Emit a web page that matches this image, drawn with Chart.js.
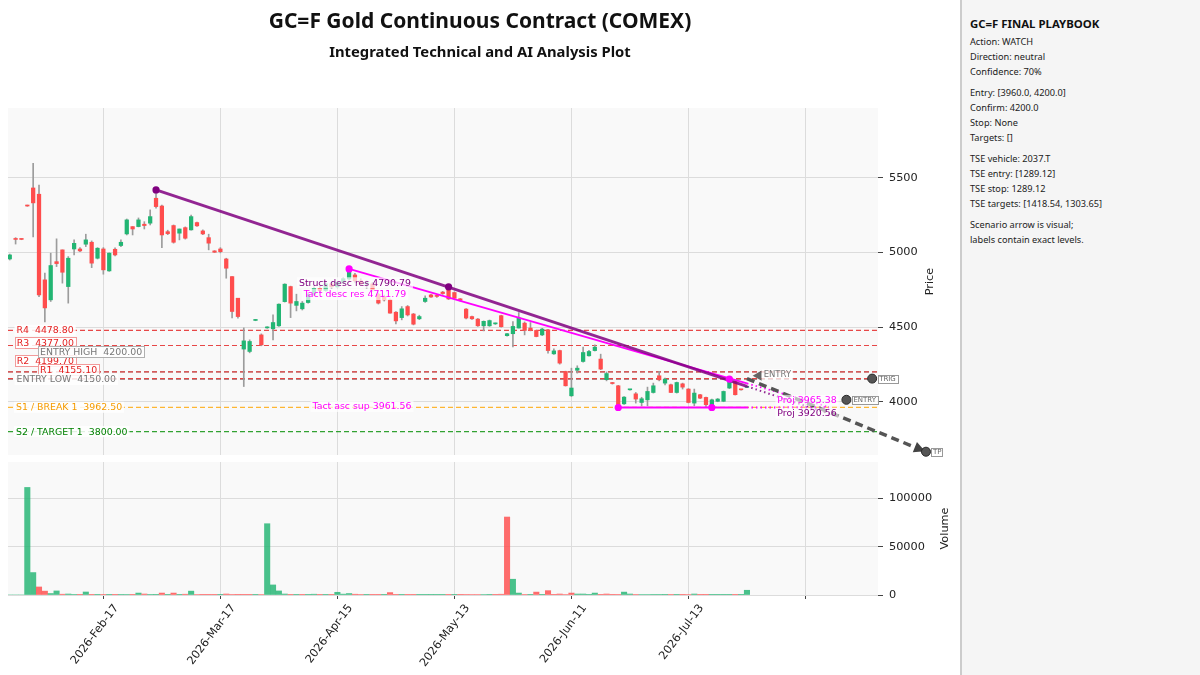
<!DOCTYPE html>
<html>
<head>
<meta charset="utf-8">
<script src="https://cdn.jsdelivr.net/npm/chart.js@4.4.1/dist/chart.umd.min.js"></script>
<style>
  html, body { margin: 0; padding: 0; background: #fff; }
  #wrap { position: relative; width: 1200px; height: 675px; overflow: hidden; }
  #chartBox { position: absolute; left: 0; top: 0; width: 960px; height: 675px; }
  .ttl { position: absolute; left: 0; width: 960px; text-align: center; font-family: "Noto Sans", sans-serif; font-weight: bold; color: #111; }
  #title { top: 6px; font-size: 21px; }
  #subtitle { top: 41px; font-size: 14.8px; }
  #side { position: absolute; left: 960px; top: 0; width: 240px; height: 675px; background: #f5f5f5;
          border-left: 2px solid #cccccc; box-sizing: border-box; padding: 15px 0 0 8px;
          font-family: "Noto Sans", sans-serif; color: #222; font-size: 9.2px; line-height: 15px; }
  #side .head { font-weight: bold; font-size: 11.4px; line-height: 18px; margin-bottom: 1px; color: #111; }
  #side .grp { margin-bottom: 6px; }
</style>
</head>
<body>
<div id="wrap">
  <div id="chartBox"><canvas id="gcChart" width="960" height="675"></canvas></div>
  <div id="title" class="ttl">GC=F Gold Continuous Contract (COMEX)</div>
  <div id="subtitle" class="ttl">Integrated Technical and AI Analysis Plot</div>
  <div id="side">
    <div class="head">GC=F FINAL PLAYBOOK</div>
    <div class="grp">Action: WATCH<br>Direction: neutral<br>Confidence: 70%</div>
    <div class="grp">Entry: [3960.0, 4200.0]<br>Confirm: 4200.0<br>Stop: None<br>Targets: []</div>
    <div class="grp">TSE vehicle: 2037.T<br>TSE entry: [1289.12]<br>TSE stop: 1289.12<br>TSE targets: [1418.54, 1303.65]</div>
    <div class="grp">Scenario arrow is visual;<br>labels contain exact levels.</div>
  </div>
</div>
<script>
// ---- daily bars (index 0 = first session shown) ----
const opens = [4957,5092,5090,5316,5433,5391,4817,4683,4939,5018,
  4772,5024,5024,5056,5069,4962,5024,4877,5022,5047,
  5125,5174,5174,5190,5197,5364,5312,5140,5181,5130,
  5167,5152,5201,5145,5100,5011,5024,4957,4839,4694,
  4353,4337,4545,4448,4495,4489,4509,4671,4772,4646,
  4623,4665,4720,4760,4745,4790,4770,4800,4823,4850,
  4810,4790,4790,4721,4705,4683,4600,4564,4638,4588,
  4556,4672,4716,4710,4735,4761,4732,4690,4621,4571,
  4554,4509,4509,4522,4577,4443,4456,4494,4527,4494,
  4478,4448,4482,4321,4343,4203,4040,4211,4270,4308,
  4343,4286,4148,4125,4107,3986,4080,4053,3995,4013,
  4062,4174,4125,4114,4062,4120,4085,3991,4047,4029,
  3973,4003,4003,4092,4136,4082,4096];
const highs = [4990,5100,5092,5318,5598,5453,4862,4996,5092,5018,
  4973,5085,5033,5123,5078,5033,5033,4998,5031,5085,
  5225,5174,5232,5207,5286,5420,5319,5150,5185,5158,
  5172,5252,5205,5152,5123,5013,5033,4962,4839,4694,
  4495,4415,4552,4455,4503,4582,4656,4791,4775,4721,
  4672,4730,4770,4775,4795,4800,4805,4830,4890,4860,
  4825,4810,4800,4730,4715,4690,4605,4638,4645,4592,
  4580,4710,4720,4715,4740,4772,4736,4692,4625,4575,
  4558,4542,4548,4528,4580,4458,4538,4598,4535,4531,
  4480,4492,4485,4354,4346,4205,4225,4241,4366,4345,
  4381,4319,4200,4130,4110,4035,4082,4062,4030,4098,
  4125,4203,4158,4118,4132,4125,4088,4085,4050,4032,
  4018,4022,4072,4152,4140,4084,4100];
const lows = [4950,5057,5086,5310,5105,4705,4535,4672,4906,4795,
  4661,4984,5006,5040,4899,4957,4855,4874,4978,5040,
  5118,5118,5172,5158,5185,5297,5033,5120,5063,5085,
  5090,5150,5175,5120,5018,5000,4998,4828,4562,4560,
  4102,4328,4543,4375,4492,4415,4505,4668,4564,4609,
  4615,4660,4710,4735,4740,4760,4765,4790,4815,4800,
  4780,4760,4740,4655,4675,4594,4522,4549,4575,4515,
  4550,4665,4700,4700,4720,4685,4690,4675,4555,4552,
  4505,4475,4505,4518,4500,4440,4367,4494,4448,4475,
  4435,4443,4326,4318,4252,4105,4035,4192,4265,4305,
  4340,4215,4140,4118,3962,3982,4078,3991,3972,3972,
  4058,4140,4112,4060,4058,4085,3992,3972,4020,3962,
  3962,4000,4000,4088,4045,4078,4094];
const closes = [4984,5088,5088,5312,5333,4716,4629,4913,4926,4868,
  4962,5062,5011,5085,4929,5029,4884,4996,4984,5069,
  5219,5158,5219,5181,5241,5308,5118,5127,5069,5158,
  5096,5241,5179,5125,5063,5002,5006,4895,4605,4571,
  4408,4404,4550,4381,4500,4531,4654,4788,4661,4672,
  4661,4720,4760,4745,4790,4770,4800,4825,4872,4810,
  4790,4795,4750,4661,4683,4594,4542,4623,4582,4520,
  4571,4694,4702,4706,4725,4689,4694,4680,4561,4556,
  4509,4539,4544,4525,4503,4456,4505,4561,4478,4478,
  4437,4487,4343,4341,4259,4107,4092,4225,4330,4337,
  4366,4219,4189,4122,3969,4031,4080,4018,4020,4069,
  4107,4147,4152,4062,4129,4098,3995,4058,4024,3980,
  4013,4018,4069,4136,4047,4080,4098];
const volumes = [0,0,0,111200,23200,8300,4000,1500,4200,800,
  1000,400,300,3100,300,300,400,300,300,400,
  600,300,2000,1000,400,300,2000,300,2000,300,
  800,4000,500,300,300,200,300,1000,600,300,
  300,300,200,500,73700,10400,4200,1000,300,300,
  300,300,800,300,300,300,2800,900,1500,800,
  600,300,300,300,300,2500,300,300,300,300,
  200,300,300,300,300,300,300,300,600,500,
  500,500,300,300,800,80600,16300,2000,600,300,
  3000,300,4500,300,1000,500,2000,1000,1000,300,
  2000,700,1000,300,400,3000,1000,600,500,500,
  400,400,300,400,300,300,500,1000,300,700,
  300,300,300,300,300,300,4900];

// ---- sessions: weekdays from the first bar, skipping exchange holidays ----
const firstSession = '2026-01-23';
const holidays = ['2026-02-16', '2026-04-03', '2026-05-25', '2026-06-19', '2026-07-03'];
const monthNames = ['Jan','Feb','Mar','Apr','May','Jun','Jul','Aug','Sep','Oct','Nov','Dec'];
const xTickIdx = [16, 36, 56, 76, 96, 116, 136];
const priceTicks = [4000, 4500, 5000, 5500];
const volTicks = [0, 50000, 100000];

// ---- levels ----
const levelNames = ['R4', 'R3', 'R2', 'R1', 'ENTRY HIGH', 'ENTRY LOW', 'S1 / BREAK 1', 'S2 / TARGET 1'];
const levelValues = [4478.80, 4377.00, 4199.70, 4155.10, 4200.00, 4150.00, 3962.50, 3800.00];
const levelKinds = ['res', 'res', 'res', 'res', 'entry', 'entry', 'sup', 'tgt'];

// ---- trendlines (bar index, price) ----
const structX = [25, 75], structY = [5420, 4770];
const tactDescX = [58, 123], tactDescY = [4890, 4152];
const tactAscX = [104, 120], tactAscY = [3961.56, 3961.56];
const projIdx = 140;
const structProj = 3920.56, tactDescProj = 3965.38, tactAscProj = 3961.56;
const structLabelVal = 4790.79, tactDescLabelVal = 4711.79;

// ---- scenario markers ----
const markerNames = ['TRIG', 'ENTRY', 'TP'];
const markerX = [147.4, 143, 156.6];
const markerY = [4155.1, 4013, 3665];
const entryArrowX = 128, entryArrowY = 4175;
const scenarioFrom = {x: 126, y: 4155.1};

// ---- styling / layout ----
const upCol = '#22b573', downCol = '#ff4d4d', wickCol = '#9c9c9c';
const levelStyle = {
  res:   {line: 'rgba(228,40,40,0.85)', text: '#e41f1f'},
  entry: {line: 'rgba(140,140,140,0.8)', text: '#777777'},
  sup:   {line: 'rgba(255,165,0,0.8)', text: '#f59b00'},
  tgt:   {line: 'rgba(0,140,0,0.8)', text: '#008000'}
};
// label placement: text left offset from plot edge, vertical offset from level, boxed or not
const levelLabelDx = [8.5, 8.7, 8.7, 32, 32, 8.5, 8, 8];
const levelLabelDy = [0, -2.7, -11, -8.8, -20, 0, 0, 0];
const levelLabelBox = [false, true, true, true, true, false, false, false];
const purple = '#800080', magenta = '#ff00ff';
const xMin = -0.3, xMax = 148.4;
const priceMin = 3643, priceMax = 5969;
const volMax = 137500;
const lblFont = '9.4px "DejaVu Sans"';

const lastIdx = opens.length - 1;

function tradingDays(start, n) {
  const out = [];
  const d = new Date(start + 'T00:00:00Z');
  while (out.length < n) {
    const wd = d.getUTCDay();
    const iso = d.toISOString().slice(0, 10);
    if (wd !== 0 && wd !== 6 && !holidays.includes(iso)) out.push(new Date(d));
    d.setUTCDate(d.getUTCDate() + 1);
  }
  return out;
}
const dateLabels = tradingDays(firstSession, opens.length).map(d =>
  d.getUTCFullYear() + '-' + monthNames[d.getUTCMonth()] + '-' + String(d.getUTCDate()).padStart(2, '0'));

function along(x0, y0, x1, y1, x) { return y0 + (y1 - y0) * (x - x0) / (x1 - x0); }
const structAtLast = along(structX[0], structY[0], projIdx, structProj, lastIdx);
const tactDescAtLast = along(tactDescX[0], tactDescY[0], projIdx, tactDescProj, lastIdx);

const candleCol = opens.map((o, i) => closes[i] >= o ? upCol : downCol);
const volCol = volumes.map((v, i) => (i === 0 || closes[i] >= closes[i - 1]) ? 'rgba(34,181,115,0.82)' : 'rgba(255,77,77,0.82)');

const levelSets = levelValues.map((v, k) => ({
  type: 'line', yAxisID: 'y', order: levelKinds[k] === 'entry' ? 4 : 3,
  data: [{x: xMin, y: v}, {x: xMax, y: v}],
  borderColor: levelStyle[levelKinds[k]].line, borderWidth: 1.2, borderDash: [5, 3],
  pointRadius: 0
}));

function drawTag(ctx, text, x, y, o) {
  ctx.font = o.font;
  const w = ctx.measureText(text).width;
  const h = o.h || 11, pad = o.pad == null ? 2 : o.pad;
  if (o.bg) { ctx.fillStyle = o.bg; ctx.fillRect(x - pad, y - h / 2, w + 2 * pad, h); }
  if (o.border) { ctx.strokeStyle = o.border; ctx.lineWidth = 1; ctx.strokeRect(Math.round(x - pad) + 0.5, Math.round(y - h / 2) + 0.5, Math.round(w + 2 * pad), h); }
  ctx.fillStyle = o.color; ctx.textBaseline = 'middle'; ctx.textAlign = 'left';
  ctx.fillText(text, x, y + 0.5);
}

const panels = {
  id: 'panels',
  beforeDraw(chart) {
    const {ctx, chartArea} = chart, py = chart.scales.y, pv = chart.scales.yVol;
    ctx.save();
    ctx.fillStyle = '#f9f9f9';
    ctx.fillRect(chartArea.left, py.top, chartArea.width, py.bottom - py.top);
    ctx.fillRect(chartArea.left, pv.top, chartArea.width, pv.bottom - pv.top);
    ctx.restore();
  },
  beforeDatasetsDraw(chart) {
    const {ctx, chartArea} = chart, py = chart.scales.y, pv = chart.scales.yVol;
    ctx.save();
    ctx.fillStyle = '#ffffff';
    ctx.fillRect(chartArea.left - 1, py.bottom, chartArea.width + 2, pv.top - py.bottom);
    ctx.restore();
  },
  afterDatasetsDraw(chart) {
    const {ctx, chartArea} = chart, sx = chart.scales.x, sy = chart.scales.y;
    ctx.save();
    // level labels
    levelValues.forEach((v, k) => {
      const st = levelStyle[levelKinds[k]];
      drawTag(ctx, levelNames[k] + '  ' + v.toFixed(2), chartArea.left + levelLabelDx[k], sy.getPixelForValue(v) + levelLabelDy[k], {
        font: lblFont, color: st.text, bg: 'rgba(255,255,255,0.85)',
        border: levelLabelBox[k] ? (levelKinds[k] === 'entry' ? '#b0b0b0' : '#f29a9a') : null
      });
    });
    // trendline labels
    const cx = sx.getPixelForValue(59);
    ctx.font = lblFont;
    [[`Struct desc res ${structLabelVal.toFixed(2)}`, structLabelVal, purple],
     [`Tact desc res ${tactDescLabelVal.toFixed(2)}`, tactDescLabelVal, magenta],
     [`Tact asc sup ${tactAscProj.toFixed(2)}`, tactAscY[0], magenta]].forEach(([t, v, c], k) => {
      const w = ctx.measureText(t).width;
      const x = (k === 2 ? sx.getPixelForValue(60.2) : cx) - w / 2;
      drawTag(ctx, t, x, sy.getPixelForValue(v) - 1, {font: lblFont, color: c, bg: 'rgba(255,255,255,0.7)'});
    });
    // projection labels
    const px = sx.getPixelForValue(131.2);
    drawTag(ctx, `Proj ${tactDescProj.toFixed(2)}`, px, sy.getPixelForValue(tactDescProj) - 6.5, {font: lblFont, color: magenta, bg: 'rgba(255,255,255,0.6)'});
    drawTag(ctx, `Proj ${structProj.toFixed(2)}`, px, sy.getPixelForValue(structProj) - 0.5, {font: lblFont, color: purple, bg: 'rgba(255,255,255,0.6)'});

    // arrow head of the scenario path (it ends outside the plot, so draw it here)
    const ax0 = sx.getPixelForValue(scenarioFrom.x), ay0 = sy.getPixelForValue(scenarioFrom.y);
    const ax1 = sx.getPixelForValue(markerX[2]), ay1 = sy.getPixelForValue(markerY[2]);
    const ang = Math.atan2(ay1 - ay0, ax1 - ax0);
    ctx.save();
    ctx.translate(ax1, ay1); ctx.rotate(ang);
    ctx.fillStyle = '#444';
    ctx.beginPath(); ctx.moveTo(-1, 0); ctx.lineTo(-12, -5.5); ctx.lineTo(-12, 5.5); ctx.closePath(); ctx.fill();
    ctx.restore();

    // scenario marker dots + tags
    markerNames.forEach((n, k) => {
      const mx = sx.getPixelForValue(markerX[k]), my = sy.getPixelForValue(markerY[k]);
      ctx.beginPath(); ctx.arc(mx, my, 4.5, 0, Math.PI * 2);
      ctx.fillStyle = '#555'; ctx.fill();
      ctx.lineWidth = 1; ctx.strokeStyle = '#2a2a2a'; ctx.stroke();
      drawTag(ctx, n, mx + 7, my, {
        font: '7px "DejaVu Sans"', color: '#666', bg: 'rgba(255,255,255,0.8)', border: '#999', h: 8, pad: 1.5
      });
    });
    drawTag(ctx, 'ENTRY', sx.getPixelForValue(entryArrowX) + 5, sy.getPixelForValue(entryArrowY) - 1, {
      font: '8.5px "DejaVu Sans"', color: '#777', bg: 'rgba(255,255,255,0.75)'
    });
    ctx.restore();
  },
  afterDraw(chart) {
    const {ctx, chartArea} = chart, py = chart.scales.y, pv = chart.scales.yVol;
    ctx.save();
    ctx.fillStyle = '#222'; ctx.font = '11.3px "DejaVu Sans"'; ctx.textAlign = 'center'; ctx.textBaseline = 'middle';
    [['Price', chartArea.right + 52, (py.top + py.bottom) / 2], ['Volume', chartArea.right + 67, (pv.top + pv.bottom) / 2]].forEach(([t, x, y]) => {
      ctx.save(); ctx.translate(x, y); ctx.rotate(-Math.PI / 2); ctx.fillText(t, 0, 0); ctx.restore();
    });
    ctx.restore();
  }
};

Chart.defaults.font.family = '"DejaVu Sans", sans-serif';

new Chart(document.getElementById('gcChart'), {
  type: 'bar',
  data: {
    datasets: [
      {
        label: 'body', yAxisID: 'y', order: 1, grouped: false,
        data: opens.map((o, i) => ({x: i, y: [o, closes[i]]})),
        backgroundColor: candleCol, barThickness: 3.6, minBarLength: 1
      },
      {
        label: 'wick', yAxisID: 'y', order: 2, grouped: false,
        data: lows.map((l, i) => ({x: i, y: [l, highs[i]]})),
        backgroundColor: wickCol, barThickness: 1
      },
      {
        label: 'volume', yAxisID: 'yVol', order: 2, grouped: false,
        data: volumes.map((v, i) => ({x: i, y: v})),
        backgroundColor: volCol, barThickness: 5.4
      },
      ...levelSets,
      {
        type: 'line', yAxisID: 'y', order: 0, label: 'struct',
        data: [{x: structX[0], y: structY[0]}, {x: lastIdx, y: structAtLast}],
        borderColor: 'rgba(128,0,128,0.85)', borderWidth: 2.8, pointRadius: 0
      },
      {
        type: 'line', yAxisID: 'y', order: 0, label: 'structProj',
        data: [{x: lastIdx, y: structAtLast}, {x: projIdx, y: structProj}],
        borderColor: 'rgba(128,0,128,0.85)', borderWidth: 2, borderDash: [1.5, 3], pointRadius: 0
      },
      {
        type: 'line', yAxisID: 'y', order: 0, label: 'tactDesc',
        data: [{x: tactDescX[0], y: tactDescY[0]}, {x: lastIdx, y: tactDescAtLast}],
        borderColor: magenta, borderWidth: 1.8, pointRadius: 0
      },
      {
        type: 'line', yAxisID: 'y', order: 0, label: 'tactDescProj',
        data: [{x: lastIdx, y: tactDescAtLast}, {x: projIdx, y: tactDescProj}],
        borderColor: magenta, borderWidth: 1.8, borderDash: [1.5, 3], pointRadius: 0
      },
      {
        type: 'line', yAxisID: 'y', order: 0, label: 'tactAsc',
        data: [{x: tactAscX[0], y: tactAscY[0]}, {x: lastIdx, y: tactAscProj}],
        borderColor: magenta, borderWidth: 2, pointRadius: 0
      },
      {
        type: 'line', yAxisID: 'y', order: 0, label: 'tactAscProj',
        data: [{x: lastIdx, y: tactAscProj}, {x: projIdx, y: tactAscProj}],
        borderColor: magenta, borderWidth: 1.8, borderDash: [1.5, 3], pointRadius: 0
      },
      {
        type: 'line', yAxisID: 'y', order: -1, label: 'anchors', showLine: false,
        data: [
          ...structX.map((x, k) => ({x, y: structY[k]})),
          ...tactDescX.map((x, k) => ({x, y: tactDescY[k]})),
          ...tactAscX.map((x, k) => ({x, y: tactAscY[k]}))
        ],
        pointBackgroundColor: [purple, purple, magenta, magenta, magenta, magenta],
        pointBorderWidth: 0, pointRadius: 3.6
      },
      {
        type: 'line', yAxisID: 'y', order: -1, label: 'scenario', clip: false,
        data: [scenarioFrom, {x: markerX[2], y: markerY[2]}],
        borderColor: '#555555', borderWidth: 3.5, borderDash: [8, 5], pointRadius: 0
      },
      {
        type: 'line', yAxisID: 'y', order: -3, label: 'entryArrow', clip: false, showLine: false,
        data: [{x: entryArrowX, y: entryArrowY}],
        pointStyle: 'triangle', rotation: -90, pointRadius: 6,
        pointBackgroundColor: '#666', pointBorderWidth: 0
      }
    ]
  },
  options: {
    responsive: false,
    animation: false,
    devicePixelRatio: 1,
    layout: { padding: {left: 8, top: 108, right: 0, bottom: 0} },
    plugins: { legend: {display: false}, tooltip: {enabled: false} },
    scales: {
      x: {
        type: 'linear', min: xMin, max: xMax, offset: false,
        grid: {offset: false, color: '#dcdcdc', tickColor: '#444', tickLength: 4, lineWidth: 1},
        border: {display: false},
        afterBuildTicks: s => { s.ticks = xTickIdx.map(v => ({value: v})); },
        afterFit: s => { s.height = 80; },
        ticks: {
          autoSkip: false, minRotation: 53, maxRotation: 53, padding: 3, labelOffset: 13,
          color: '#222', font: {size: 11.3},
          callback: v => v <= lastIdx ? dateLabels[v] : ''
        }
      },
      y: {
        type: 'linear', position: 'right', stack: 'panes', stackWeight: 347,
        min: priceMin, max: priceMax,
        grid: {color: '#dcdcdc', tickColor: '#444', tickLength: 5},
        border: {display: false},
        afterBuildTicks: s => { s.ticks = priceTicks.map(v => ({value: v})); },
        afterFit: s => { s.width = 82; },
        ticks: {color: '#222', padding: 6, font: {size: 11.3}, callback: v => String(v)}
      },
      yGap: {
        type: 'linear', position: 'right', stack: 'panes', stackWeight: 7, display: false,
        afterFit: s => { s.width = 82; }
      },
      yVol: {
        type: 'linear', position: 'right', stack: 'panes', stackWeight: 133,
        min: 0, max: volMax,
        grid: {color: '#dcdcdc', tickColor: '#444', tickLength: 5},
        border: {display: false},
        afterBuildTicks: s => { s.ticks = volTicks.map(v => ({value: v})); },
        afterFit: s => { s.width = 82; },
        ticks: {color: '#222', padding: 6, font: {size: 11.3}, callback: v => String(v)}
      }
    }
  },
  plugins: [panels]
});
</script>
</body>
</html>
